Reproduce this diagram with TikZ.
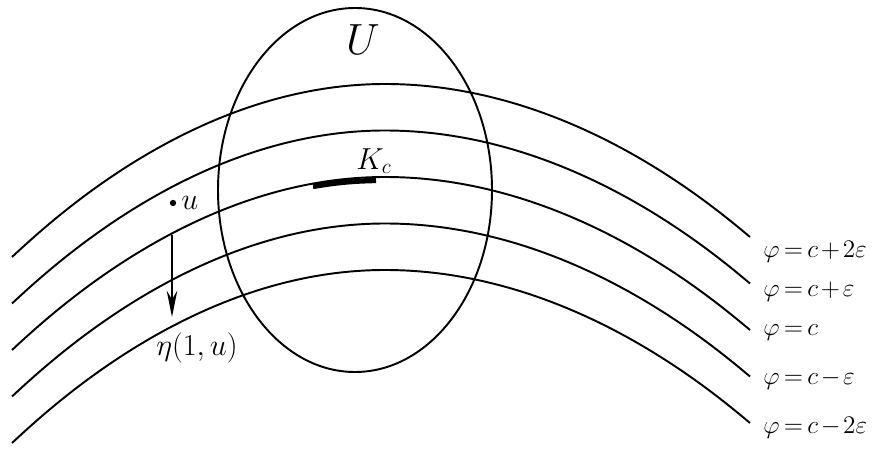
\documentclass[tikz,border=0pt]{standalone}
\usepackage{amsmath,amssymb}
\usepackage{tikz}
\usetikzlibrary{arrows.meta,positioning}
\newcommand\tightmath{\thickmuskip=3mu\relax\medmuskip=2mu\relax}
\tikzset{levelset/.style={line width=1.1pt},
  levellab/.style={anchor=west,inner sep=0pt,
    font=\fontsize{14.5}{16}\selectfont\tightmath},
  ptdot/.style={circle,fill,inner sep=0pt,minimum size=3.6pt}}

\begin{document}
\begin{tikzpicture}[x=0.02cm,y=-0.02cm,>={Stealth[length=15pt,width=6pt,inset=5pt]}]
  \useasboundingbox (0,0) rectangle (873,449);
  % the level sets phi = const
  \foreach \k in {0,...,4}
    \draw[levelset] (12,257+46.5*\k) parabola bend (385,84+46.5*\k) (750,237+46.5*\k);
  \foreach \k/\y/\txt in {0/252/{c+2\varepsilon},1/292/{c+\varepsilon},2/333/{c},
      3/380/{c-\varepsilon},4/428/{c-2\varepsilon}}
    \node[levellab] (lab\k) at (763,\y) {$\varphi=\txt$};
  % the neighbourhood U of K_c
  \draw[levelset] (355,190) ellipse (137 and 182);
  \node[font=\fontsize{24}{26}\selectfont] (U) at (363,40) {$U$};
  \draw[line width=3pt] (313,186.5) to[bend left=4] (376,180.5);
  \node[font=\fontsize{18}{20}\selectfont] (Kc) at (374,161) {$K_c$};
  % deformation of u
  \node[ptdot] (u) at (173,203) {};
  \node[right=2.5pt of u,inner sep=0pt,font=\fontsize{17}{19}\selectfont] (ulab) {$u$};
  \coordinate (a0) at (172,235);
  \coordinate (a1) at (172,317);
  \draw[->,line width=1.1pt] (a0) -- (a1);
  \node[font=\fontsize{17}{19}\selectfont] (eta) at (197,348) {$\eta(1,u)$};
\end{tikzpicture}
\end{document}
